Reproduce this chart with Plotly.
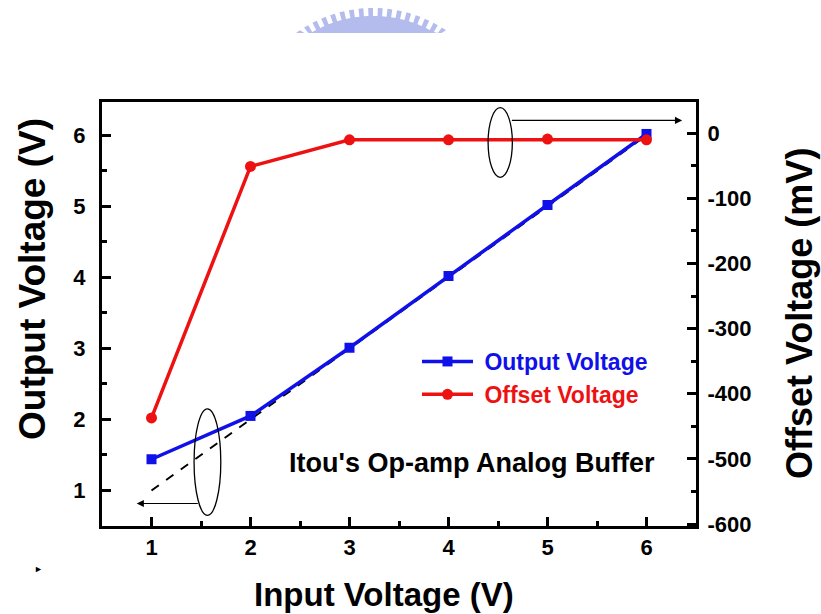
import numpy as np
import plotly.graph_objects as go

# ---------------- data ----------------
input_voltage = [1, 2, 3, 4, 5, 6]
output_voltage = [1.44, 2.05, 3.01, 4.02, 5.02, 6.02]
offset_voltage_mv = [-437, -51, -10, -10, -9, -10]
ideal_vin = [1, 6]
ideal_vout = [1, 6]

x_ticks = [1, 2, 3, 4, 5, 6]
y_ticks = [1, 2, 3, 4, 5, 6]
y2_ticks = [0, -100, -200, -300, -400, -500, -600]

FONT = "Liberation Sans, Arial, Helvetica, sans-serif"
W, H = 821, 614
L, R, T, B = 102, 125, 102, 88
PW, PH = W - L - R, H - T - B


def px(xp):
    return (xp - L) / PW


def py(yp):
    return (H - B - yp) / PH


fig = go.Figure()

fig.add_trace(go.Scatter(
    x=ideal_vin, y=ideal_vout, mode="lines",
    line=dict(color="black", width=2, dash="dash"),
    showlegend=False, hoverinfo="skip"))

fig.add_trace(go.Scatter(
    x=input_voltage, y=output_voltage, mode="lines+markers",
    name=" <span style='color:#1010e8'>Output Voltage</span>",
    line=dict(color="#1010e8", width=3.5),
    marker=dict(symbol="square", size=10, color="#1010e8")))

fig.add_trace(go.Scatter(
    x=input_voltage, y=offset_voltage_mv, mode="lines+markers", yaxis="y2",
    name=" <span style='color:#ee1111'>Offset Voltage</span>",
    line=dict(color="#ee1111", width=3.5),
    marker=dict(symbol="circle", size=11, color="#ee1111")))

tickfont = dict(family=FONT, size=22, color="black", weight="bold")

fig.update_layout(
    width=W, height=H,
    margin=dict(l=L, r=R, t=T, b=B),
    paper_bgcolor="white", plot_bgcolor="white",
    font=dict(family=FONT, color="black"),
    xaxis=dict(
        range=[0.5, 6.5], tickvals=x_ticks, ticktext=[str(v) for v in x_ticks],
        ticks="inside", ticklen=9, tickwidth=3, tickcolor="black",
        minor=dict(dtick=0.5, tick0=0.5, ticks="inside", ticklen=5, tickwidth=3, tickcolor="black"),
        showline=True, linewidth=3, linecolor="black", mirror=True,
        showgrid=False, zeroline=False, tickfont=tickfont, ticklabelstandoff=0),
    yaxis=dict(
        range=[0.5, 6.47], tickvals=y_ticks, ticktext=[str(v) for v in y_ticks],
        ticks="inside", ticklen=9, tickwidth=3, tickcolor="black",
        minor=dict(dtick=0.5, tick0=0.5, ticks="inside", ticklen=5, tickwidth=3, tickcolor="black"),
        showline=True, linewidth=3, linecolor="black",
        showgrid=False, zeroline=False, tickfont=tickfont, ticklabelstandoff=9),
    yaxis2=dict(
        overlaying="y", side="right", anchor="x",
        range=[-603, 48], tickvals=y2_ticks, ticktext=[str(v) for v in y2_ticks],
        ticks="inside", ticklen=9, tickwidth=3, tickcolor="black",
        minor=dict(dtick=50, tick0=0, ticks="inside", ticklen=5, tickwidth=3, tickcolor="black"),
        showline=True, linewidth=3, linecolor="black",
        showgrid=False, zeroline=False, tickfont=tickfont, ticklabelstandoff=4),
    legend=dict(
        x=px(417), y=py(340), xanchor="left", yanchor="top",
        bgcolor="rgba(0,0,0,0)", borderwidth=0,
        font=dict(family=FONT, size=23, weight="bold"),
        itemwidth=51, tracegroupgap=0),
)

# axis titles
fig.add_annotation(text="Input Voltage (V)", xref="paper", yref="paper",
                   x=px(384), y=py(594), xanchor="center", yanchor="middle",
                   showarrow=False,
                   font=dict(family=FONT, size=33, color="black", weight="bold"))
fig.add_annotation(text="Output Voltage (V)", xref="paper", yref="paper",
                   x=px(32), y=py(279), xanchor="center", yanchor="middle",
                   showarrow=False, textangle=-90,
                   font=dict(family=FONT, size=37, color="black", weight="bold"))
fig.add_annotation(text="Offset Voltage (mV)", xref="paper", yref="paper",
                   x=px(799), y=py(314), xanchor="center", yanchor="middle",
                   showarrow=False, textangle=-90,
                   font=dict(family=FONT, size=36, color="black", weight="bold"))

# in-plot label
fig.add_annotation(text="Itou's Op-amp Analog Buffer", xref="x", yref="y",
                   x=4.24, y=1.39, showarrow=False,
                   font=dict(family=FONT, size=27, color="black", weight="bold"))

# ellipses marking the curves and arrows pointing to their axes
fig.add_shape(type="circle", xref="x", yref="y", x0=4.40, x1=4.645, y0=5.41, y1=6.39,
              line=dict(color="black", width=1.3))
fig.add_shape(type="circle", xref="x", yref="y", x0=1.43, x1=1.70, y0=0.65, y1=2.15,
              line=dict(color="black", width=1.3))
fig.add_annotation(xref="x", yref="y", axref="x", ayref="y",
                   x=6.36, y=6.21, ax=4.625, ay=6.21, text="", showarrow=True,
                   arrowhead=2, arrowsize=1.2, arrowwidth=1.2, arrowcolor="black")
fig.add_annotation(xref="x", yref="y", axref="x", ayref="y",
                   x=0.85, y=0.817, ax=1.483, ay=0.817, text="", showarrow=True,
                   arrowhead=2, arrowsize=1.2, arrowwidth=1.2, arrowcolor="black")

# faint watermark (cropped gear-shaped logo) at the top
cx, cy, Ro, Ri = 373, 139, 131, 123
clip_y = 33
pts = []
n_teeth = 17
half = np.degrees(np.arcsin(np.sqrt(Ro**2 - (cy - clip_y)**2) / Ro))
angs = np.linspace(-half, half, n_teeth * 2 + 1)
for i, a in enumerate(angs[:-1]):
    r = Ro if i % 2 == 0 else Ri
    for aa in (a, angs[i + 1]):
        t = np.radians(aa)
        xx, yy = cx + r * np.sin(t), cy - r * np.cos(t)
        yy = min(yy, clip_y)
        pts.append((xx, yy))
path = "M " + " L ".join(f"{px(x):.5f},{py(y):.5f}" for x, y in pts)
path += f" L {px(pts[-1][0]):.5f},{py(clip_y):.5f} L {px(pts[0][0]):.5f},{py(clip_y):.5f} Z"
fig.add_shape(type="path", xref="paper", yref="paper", path=path,
              fillcolor="#b4bcee", line=dict(width=0), layer="below")

# small stray mark at the lower left
fig.add_annotation(text="►", xref="paper", yref="paper", x=px(38), y=py(569),
                   xanchor="center", yanchor="middle",
                   showarrow=False, font=dict(size=9, color="black"))

# remove the default 8px page margin so the figure sits at the window's corner
fig.write_html("out.html", config={"displayModeBar": False},
               post_script="document.body.style.margin='0';")
